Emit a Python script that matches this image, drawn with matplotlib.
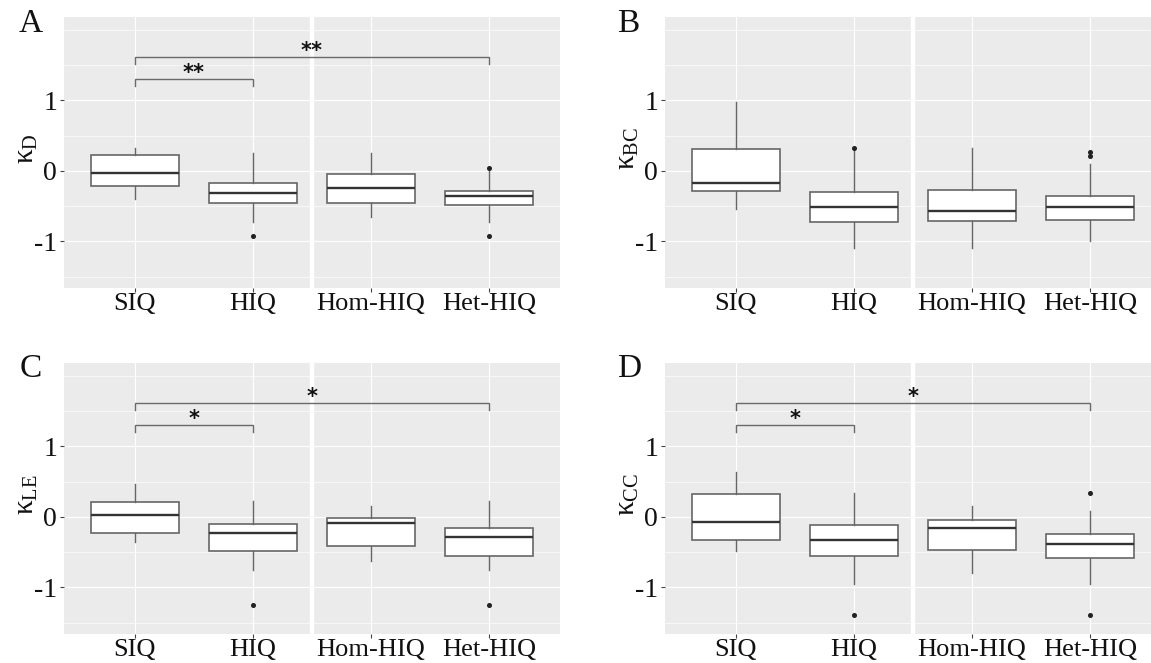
import matplotlib
matplotlib.use("Agg")
import matplotlib.pyplot as plt

categories = ["SIQ", "HIQ", "Hom-HIQ", "Het-HIQ"]

# Panel A: kappa_D
kD_whislo = [-0.40, -0.72, -0.66, -0.72]
kD_q1 = [-0.22, -0.46, -0.45, -0.48]
kD_med = [-0.03, -0.32, -0.24, -0.36]
kD_q3 = [0.23, -0.17, -0.04, -0.28]
kD_whishi = [0.33, 0.25, 0.25, 0.00]
kD_fliers = [[], [-0.93], [], [0.04, -0.93]]

# Panel B: kappa_BC
kBC_whislo = [-0.54, -1.09, -1.09, -1.00]
kBC_q1 = [-0.28, -0.72, -0.71, -0.70]
kBC_med = [-0.17, -0.51, -0.57, -0.51]
kBC_q3 = [0.31, -0.30, -0.27, -0.35]
kBC_whishi = [0.97, 0.29, 0.33, 0.09]
kBC_fliers = [[], [0.33], [], [0.27, 0.21]]

# Panel C: kappa_LE
kLE_whislo = [-0.36, -0.76, -0.62, -0.76]
kLE_q1 = [-0.23, -0.49, -0.41, -0.55]
kLE_med = [0.02, -0.23, -0.09, -0.28]
kLE_q3 = [0.21, -0.10, -0.02, -0.16]
kLE_whishi = [0.47, 0.22, 0.15, 0.22]
kLE_fliers = [[], [-1.25], [], [-1.25]]

# Panel D: kappa_CC
kCC_whislo = [-0.48, -0.95, -0.79, -0.95]
kCC_q1 = [-0.33, -0.55, -0.47, -0.58]
kCC_med = [-0.07, -0.33, -0.16, -0.38]
kCC_q3 = [0.32, -0.11, -0.04, -0.24]
kCC_whishi = [0.63, 0.34, 0.15, 0.08]
kCC_fliers = [[], [-1.39], [], [0.34, -1.39]]

panel_letters = ["A", "B", "C", "D"]
ylabels = [r"$\kappa_{\mathrm{D}}$", r"$\kappa_{\mathrm{BC}}$",
           r"$\kappa_{\mathrm{LE}}$", r"$\kappa_{\mathrm{CC}}$"]
# significance annotations: (group i, group j, bracket y, label)
sig_A = [(1, 2, 1.30, "**"), (1, 4, 1.61, "**")]
sig_B = []
sig_C = [(1, 2, 1.30, "*"), (1, 4, 1.61, "*")]
sig_D = [(1, 2, 1.30, "*"), (1, 4, 1.61, "*")]

plt.rcParams["mathtext.fontset"] = "custom"
plt.rcParams["mathtext.rm"] = "Liberation Serif"
plt.rcParams["mathtext.it"] = "Liberation Serif"
plt.rcParams["mathtext.bf"] = "Liberation Serif:bold"

W, H = 1151, 663
fig = plt.figure(figsize=(W / 100, H / 100), dpi=100)

panels = [
    (kD_whislo, kD_q1, kD_med, kD_q3, kD_whishi, kD_fliers, sig_A),
    (kBC_whislo, kBC_q1, kBC_med, kBC_q3, kBC_whishi, kBC_fliers, sig_B),
    (kLE_whislo, kLE_q1, kLE_med, kLE_q3, kLE_whishi, kLE_fliers, sig_C),
    (kCC_whislo, kCC_q1, kCC_med, kCC_q3, kCC_whishi, kCC_fliers, sig_D),
]
# axes placement in pixels (left, top, width, height)
boxes_px = [(64, 17, 496, 271), (665, 17, 496, 271),
            (64, 363, 496, 271), (665, 363, 496, 271)]
letter_px = [(31, 24), (628, 24), (31, 369), (629, 369)]

ylim = (-1.66, 2.18)
for k, (pan, (l, t, w, h)) in enumerate(zip(panels, boxes_px)):
    wl, q1, md, q3, wh, fl, sig = pan
    ax = fig.add_axes([l / W, (H - t - h) / H, w / W, h / H])
    ax.set_facecolor("#EBEBEB")
    for s in ax.spines.values():
        s.set_visible(False)
    ax.set_xlim(0.4, 4.6)
    ax.set_ylim(*ylim)
    # grid
    for yv in [-1.5, -0.5, 0.5, 1.5, 2.0]:
        ax.axhline(yv, color="white", lw=0.45, zorder=0)
    for yv in [-1, 0, 1]:
        ax.axhline(yv, color="white", lw=0.8, zorder=0)
    for xv in range(1, 5):
        ax.axvline(xv, color="white", lw=0.8, zorder=0)
    ax.axvline(2.5, color="white", lw=3.2, zorder=0.5)

    stats = []
    for i in range(4):
        stats.append(dict(whislo=wl[i], q1=q1[i], med=md[i], q3=q3[i],
                          whishi=wh[i], fliers=fl[i], label=categories[i]))
    ax.bxp(stats, positions=[1, 2, 3, 4], widths=0.75, patch_artist=True,
           showcaps=False,
           boxprops=dict(facecolor="white", edgecolor="#666666", linewidth=1.2),
           whiskerprops=dict(color="#666666", linewidth=1.0),
           medianprops=dict(color="#333333", linewidth=1.7),
           flierprops=dict(marker="o", markerfacecolor="#222222",
                           markeredgecolor="#222222", markersize=2.6),
           zorder=2)

    for (i, j, yb, lab) in sig:
        ax.plot([i, i, j, j], [yb - 0.1, yb, yb, yb - 0.1], color="#6a6a6a",
                lw=1.0, zorder=3, solid_joinstyle="miter")
        ax.text((i + j) / 2, yb - 0.05, lab, ha="center", va="bottom",
                fontsize=15, fontweight="bold", family="DejaVu Sans",
                color="#111111", zorder=4)

    ax.set_xticks([1, 2, 3, 4])
    ax.set_xticklabels(categories)
    ax.set_yticks([-1, 0, 1])
    ax.set_yticklabels(["-1", "0", "1"])
    ax.tick_params(axis="both", length=3, width=0.8, color="#444444",
                   labelsize=20, labelcolor="#111111", pad=2)
    ax.tick_params(axis="x", labelsize=19, pad=0.5)
    for lab in ax.get_xticklabels() + ax.get_yticklabels():
        lab.set_family("Liberation Serif")

    # y label
    fig.text((l - 38) / W, (H - t - h / 2 + 4) / H, ylabels[k], rotation=90,
             ha="center", va="center", fontsize=21, color="#111111")
    lx, ly = letter_px[k]
    fig.text(lx / W, (H - ly) / H, panel_letters[k], ha="center", va="center",
             fontsize=24, family="Liberation Serif", color="#111111")

fig.savefig("out.png", dpi=100)
